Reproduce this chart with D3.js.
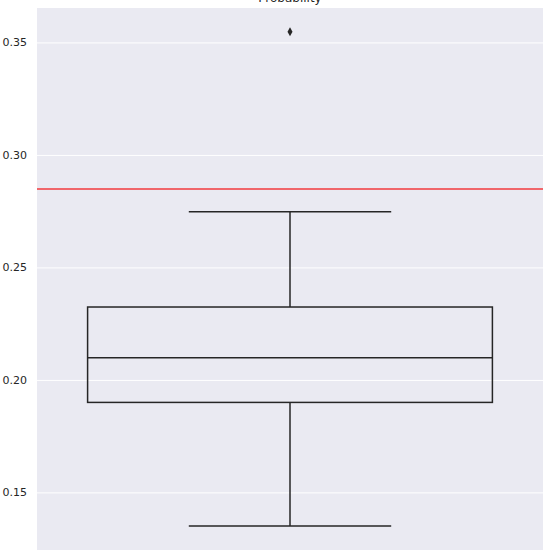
<!DOCTYPE html>
<html>
<head>
<meta charset="utf-8">
<script src="https://cdn.jsdelivr.net/npm/d3@7"></script>
<style>
body { margin: 0; background: #fff; }
text { font-family: "DejaVu Sans", sans-serif; }
</style>
</head>
<body>
<div id="chart"></div>
<script>

// box statistics
var title = "Probability";
var boxStats = [{q1: 0.19, median: 0.2098, q3: 0.2324, low: 0.1351, high: 0.2747}];
var outliers = [0.3547];
var refValue = [0.2849];
var yTicks = [0.15, 0.20, 0.25, 0.30, 0.35];

var width = 554, height = 560;
var margin = {top: 8, right: 11, bottom: 10, left: 37};

var svg = d3.select("#chart").append("svg")
	.attr("width", width)
	.attr("height", height);

var x = d3.scaleBand()
	.domain([0])
	.range([margin.left, width - margin.right])
	.paddingInner(0).paddingOuter(0);

var y = d3.scaleLinear()
	.domain([0.1244, 0.3653])
	.range([height - margin.bottom, margin.top]);

// background
svg.append("rect")
	.attr("x", margin.left)
	.attr("y", margin.top)
	.attr("width", width - margin.left - margin.right)
	.attr("height", height - margin.top - margin.bottom)
	.attr("fill", "#eaeaf2");

// y axis with grid
var yAxis = svg.append("g")
	.attr("transform", "translate(" + margin.left + ",0)")
	.call(d3.axisLeft(y).tickValues(yTicks).tickFormat(d3.format(".2f"))
		.tickSize(-(width - margin.left - margin.right)).tickPadding(10));

yAxis.select(".domain").remove();
yAxis.selectAll(".tick line").attr("stroke", "#fff").attr("stroke-width", 1);
yAxis.selectAll(".tick text").attr("fill", "#262626").style("font-size", "11px");

// title (clipped at the top, as in the original)
svg.append("text")
	.attr("x", margin.left + (width - margin.left - margin.right) / 2)
	.attr("y", 2)
	.attr("text-anchor", "middle")
	.attr("fill", "#262626")
	.style("font-size", "12px")
	.text(title);

var bw = x.bandwidth() * 0.8;
var lineColor = "#262626";

var box = svg.selectAll(".box")
	.data(boxStats)
	.enter()
	.append("g")
	.attr("class", "box");

// whiskers
box.append("line")
	.attr("x1", function(d, i) {return x(i) + x.bandwidth() / 2;})
	.attr("x2", function(d, i) {return x(i) + x.bandwidth() / 2;})
	.attr("y1", function(d) {return y(d.q3);})
	.attr("y2", function(d) {return y(d.high);})
	.attr("stroke", lineColor).attr("stroke-width", 1.5);

box.append("line")
	.attr("x1", function(d, i) {return x(i) + x.bandwidth() / 2;})
	.attr("x2", function(d, i) {return x(i) + x.bandwidth() / 2;})
	.attr("y1", function(d) {return y(d.q1);})
	.attr("y2", function(d) {return y(d.low);})
	.attr("stroke", lineColor).attr("stroke-width", 1.5);

// caps
["high", "low"].forEach(function(k) {
	box.append("line")
		.attr("x1", function(d, i) {return x(i) + x.bandwidth() / 2 - bw / 4;})
		.attr("x2", function(d, i) {return x(i) + x.bandwidth() / 2 + bw / 4;})
		.attr("y1", function(d) {return y(d[k]);})
		.attr("y2", function(d) {return y(d[k]);})
		.attr("stroke", lineColor).attr("stroke-width", 1.5);
});

// box
box.append("rect")
	.attr("x", function(d, i) {return x(i) + (x.bandwidth() - bw) / 2;})
	.attr("y", function(d) {return y(d.q3);})
	.attr("width", bw)
	.attr("height", function(d) {return y(d.q1) - y(d.q3);})
	.attr("fill", "none")
	.attr("stroke", lineColor).attr("stroke-width", 1.5);

// median
box.append("line")
	.attr("x1", function(d, i) {return x(i) + (x.bandwidth() - bw) / 2;})
	.attr("x2", function(d, i) {return x(i) + (x.bandwidth() + bw) / 2;})
	.attr("y1", function(d) {return y(d.median);})
	.attr("y2", function(d) {return y(d.median);})
	.attr("stroke", lineColor).attr("stroke-width", 1.5);

// outliers as thin diamonds
svg.selectAll(".outlier")
	.data(outliers)
	.enter()
	.append("path")
	.attr("class", "outlier")
	.attr("transform", function(d) {return "translate(" + (x(0) + x.bandwidth() / 2) + "," + y(d) + ")";})
	.attr("d", "M0,-4.5L2.5,0L0,4.5L-2.5,0Z")
	.attr("fill", "#262626");

// reference line
svg.selectAll(".ref")
	.data(refValue)
	.enter()
	.append("line")
	.attr("class", "ref")
	.attr("x1", margin.left)
	.attr("x2", width - margin.right)
	.attr("y1", function(d) {return y(d);})
	.attr("y2", function(d) {return y(d);})
	.attr("stroke", "#f23a3e")
	.attr("stroke-width", 1.5);

</script>
</body>
</html>
